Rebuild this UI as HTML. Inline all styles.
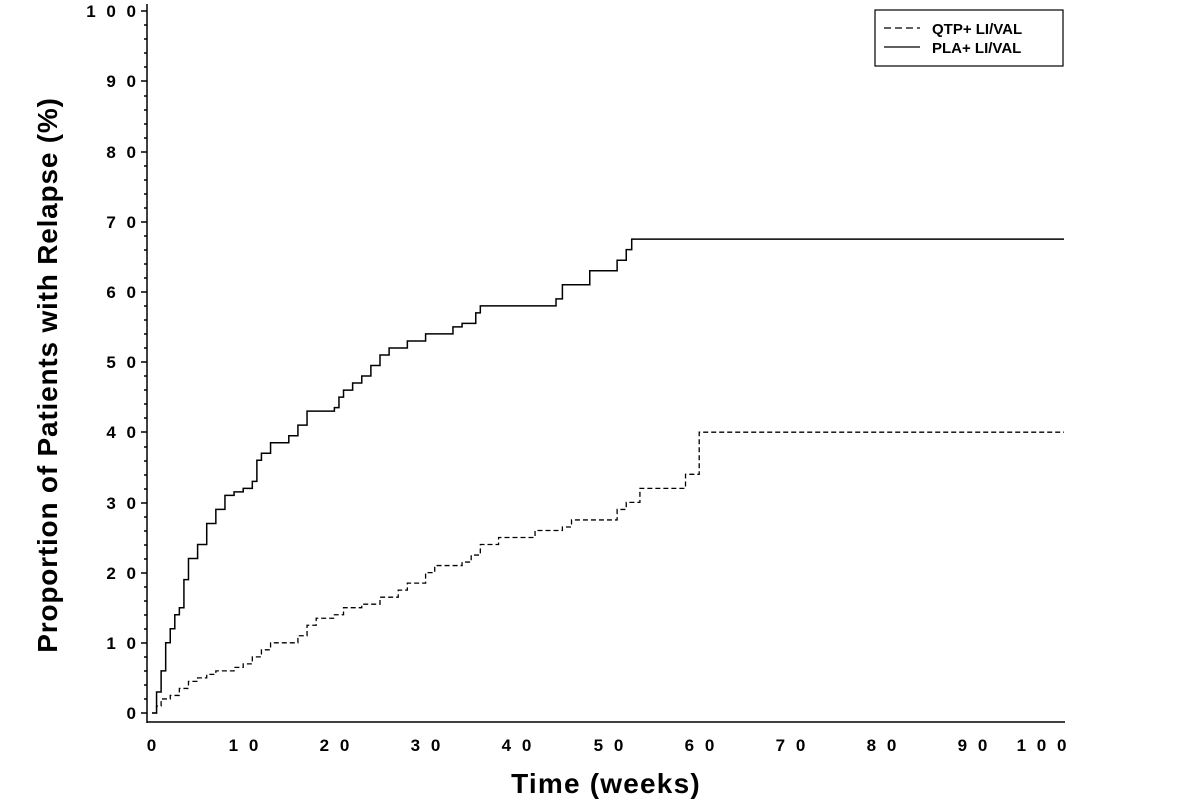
<!DOCTYPE html>
<html><head><style>body{margin:0;background:#fff}svg{display:block}</style></head><body>
<svg width="1191" height="810" xmlns="http://www.w3.org/2000/svg" font-family="Liberation Sans, sans-serif">
<rect width="1191" height="810" fill="#fff"/>
<g stroke="#000" stroke-width="1.5" fill="none">
<line x1="147" y1="4" x2="147" y2="723"/>
<line x1="147" y1="722" x2="1065" y2="722"/>
<path d="
M141 713H147 M144 699H147 M144 685H147 M144 671H147 M144 657H147
M141 643H147 M144 629H147 M144 615H147 M144 601H147 M144 587H147
M141 573H147 M144 559H147 M144 545H147 M144 531H147 M144 517H147
M141 503H147 M144 489H147 M144 475H147 M144 461H147 M144 447H147
M141 432H147 M144 418H147 M144 404H147 M144 390H147 M144 376H147
M141 362H147 M144 348H147 M144 334H147 M144 320H147 M144 306H147
M141 292H147 M144 278H147 M144 264H147 M144 250H147 M144 236H147
M141 222H147 M144 208H147 M144 194H147 M144 180H147 M144 166H147
M141 152H147 M144 138H147 M144 124H147 M144 110H147 M144 96H147
M141 81H147 M144 67H147 M144 53H147 M144 39H147 M144 25H147
M141 11H147"/>
</g>
<g stroke="#000" stroke-width="1.5" id="xt"></g>
<g font-size="17" font-weight="bold" text-anchor="end" letter-spacing="3" fill="#000">
<text x="139" y="719">0</text><text x="139" y="649">1 0</text><text x="139" y="579">2 0</text>
<text x="139" y="509">3 0</text><text x="139" y="438">4 0</text><text x="139" y="368">5 0</text>
<text x="139" y="298">6 0</text><text x="139" y="228">7 0</text><text x="139" y="158">8 0</text>
<text x="139" y="87">9 0</text><text x="139" y="17">1 0 0</text>
</g>
<g font-size="17" font-weight="bold" text-anchor="middle" letter-spacing="3" fill="#000">
<text x="153" y="751">0</text><text x="245" y="751">1 0</text><text x="336" y="751">2 0</text>
<text x="427" y="751">3 0</text><text x="518" y="751">4 0</text><text x="610" y="751">5 0</text>
<text x="701" y="751">6 0</text><text x="792" y="751">7 0</text><text x="883" y="751">8 0</text>
<text x="974" y="751">9 0</text><text x="1043" y="751">1 0 0</text>
</g>
<text x="606" y="793" font-size="28" font-weight="bold" text-anchor="middle" letter-spacing="1.2">Time (weeks)</text>
<text transform="translate(57,375) rotate(-90)" font-size="28" font-weight="bold" text-anchor="middle" letter-spacing="0.8">Proportion of Patients with Relapse (%)</text>
<g transform="translate(152,713) scale(9.12,-7.02)" fill="none" stroke="#000">
<path vector-effect="non-scaling-stroke" stroke-width="1.5" d="M0 0H0.5V3H1V6H1.5V10H2V12H2.5V14H3V15H3.5V19H4V22H5V24H6V27H7V29H8V31H9V31.5H10V32H11V33H11.5V36H12V37H13V38.5H15V39.5H16V41H17V43H20V43.5H20.5V45H21V46H22V47H23V48H24V49.5H25V51H26V52H28V53H30V54H33V55H34V55.5H35.5V57H36V58H44.3V59H45V61H48V63H51V64.5H52V66H52.6V67.5H100"/>
<path vector-effect="non-scaling-stroke" stroke-width="1.3" stroke-dasharray="5,3" d="M0 0H0.5V1H1V2H2V2.5H3V3.5H4V4.5H5V5H6V5.5H7V6H9V6.5H10V7H11V8H12V9H13V10H15V10H16V11H17V12.5H18V13.5H20V14H21V15H23V15.5H25V16.5H27V17.5H28V18.5H30V20H31V21H34V21.5H35V22.5H36V24H38V25H41V25H42V26H45V26.5H46V27.5H51V29H52V30H53.5V32H58.5V34H60V40H100"/>
</g>
<rect x="875" y="10" width="188" height="56" fill="none" stroke="#000" stroke-width="1.2"/>
<line x1="884" y1="28" x2="920" y2="28" stroke="#000" stroke-width="1.2" stroke-dasharray="7,4"/>
<line x1="884" y1="47" x2="920" y2="47" stroke="#000" stroke-width="1.2"/>
<text x="932" y="34" font-size="15" font-weight="bold">QTP+ LI/VAL</text>
<text x="932" y="53" font-size="15" font-weight="bold">PLA+ LI/VAL</text>
<script>
var g=document.getElementById('xt'),s='';
for(var i=0;i<=50;i++){var x=152+i*1.824*5;var l=(i%5==0)?9:6;s+='<line x1="'+x+'" y1="722" x2="'+x+'" y2="'+(722+l)+'"/>';}
g.innerHTML=s;
</script>
</svg>
</body></html>
